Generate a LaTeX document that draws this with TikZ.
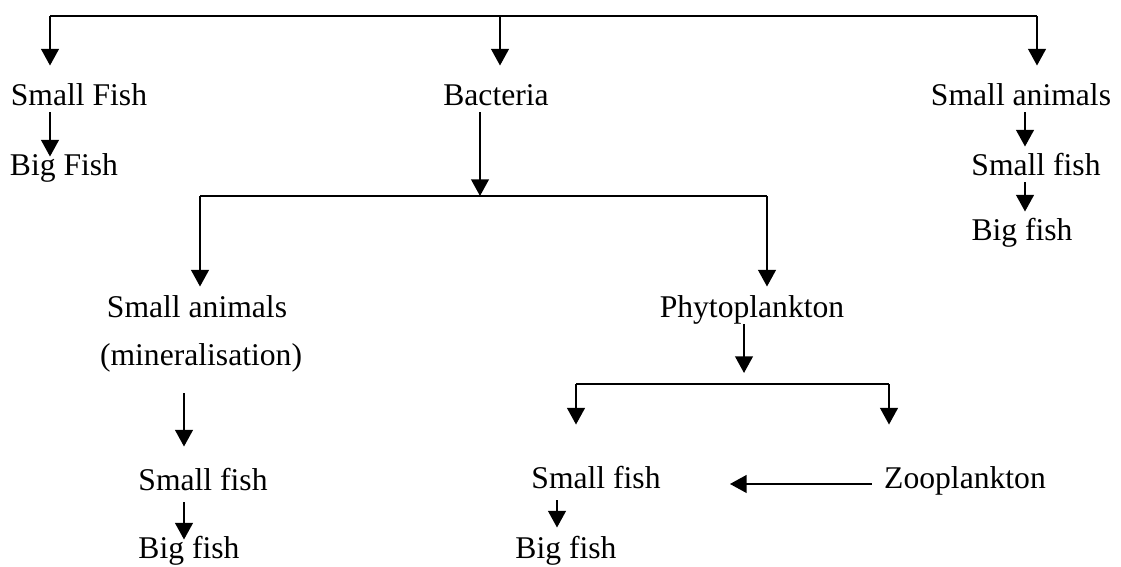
\documentclass[tikz,border=0pt]{standalone}
\usepackage{fontspec}
\setmainfont{Liberation Serif}
\usetikzlibrary{arrows.meta}
\tikzset{
  lbl/.style={anchor=base, inner sep=0pt, text height=12pt, text depth=4pt,
    font=\fontsize{18}{22}\selectfont},
  feed/.style={-{Triangle[length=9.5pt,width=10pt]}, line width=1.4pt},
  bar/.style={line width=1.2pt}
}

\begin{document}
\begin{tikzpicture}[x=0.02cm, y=-0.02cm]
    \useasboundingbox (0,0) rectangle (1121,566);

    \node[lbl] (sFish) at (79,105)   {Small Fish};
    \node[lbl] (bFish) at (64,175)   {Big Fish};
    \node[lbl] (bac)   at (496,105)  {Bacteria};
    \node[lbl] (sAnR)  at (1021,105) {Small animals};
    \node[lbl] (sfR)   at (1036,175) {Small fish};
    \node[lbl] (bfR)   at (1022,240) {Big fish};

    \node[lbl] (sAnL)    at (197,317) {Small animals};
    \node[lbl] (mineral) at (201,365) {(mineralisation)};
    \node[lbl] (sfL)     at (203,490) {Small fish};
    \node[lbl] (bfL)     at (189,558) {Big fish};

    \node[lbl] (phyto) at (752,317) {Phytoplankton};
    \node[lbl] (sfM)   at (596,488) {Small fish};
    \node[lbl] (zoo)   at (965,488) {Zooplankton};
    \node[lbl] (bfM)   at (566,558) {Big fish};

    \coordinate (t1) at (50,16);
    \coordinate (t2) at (500,16);
    \coordinate (t3) at (1037,16);
    \coordinate (m1) at (200,196);
    \coordinate (m2) at (480,196);
    \coordinate (m3) at (767,196);
    \coordinate (p1) at (576,384);
    \coordinate (p2) at (744,384);
    \coordinate (p3) at (889,384);
    \coordinate (fR) at ([xshift=0.08cm]sAnR.south);
    \coordinate (fL) at ([xshift=-0.1cm]bfL.north);
    \coordinate (fM) at ([xshift=-0.18cm]bfM.north);

    \draw[bar] (t1) -- (t3);
    \draw[bar] (m1) -- (m3);
    \draw[bar] (p1) -- (p3);

    \draw[feed, shorten >=0.36cm] (t1) -- (t1 |- sFish.north);
    \draw[feed, shorten >=0.36cm] (t2) -- (t2 |- bac.north);
    \draw[feed, shorten >=0.36cm] (t3) -- (t3 |- sAnR.north);
    \draw[feed, shorten >=-0.06cm] (sFish.south -| t1) -- (bFish.north -| t1);

    \draw[feed] (bac.south -| m2) -- (m2);
    \draw[feed, shorten >=0.18cm] (m1) -- (m1 |- sAnL.north);
    \draw[feed, shorten >=0.18cm] (m3) -- (m3 |- phyto.north);

    \draw[feed, shorten >=0.14cm] (fR) -- (fR |- sfR.north);
    \draw[feed, shorten >=0.14cm] (fR |- sfR.south) -- (fR |- bfR.north);

    \draw[feed, shorten <=0.42cm, shorten >=0.44cm] (mineral.south -| fL) -- (sfL.north -| fL);
    \draw[feed, shorten <=0.1cm, shorten >=-0.06cm] (sfL.south -| fL) -- (fL);

    \draw[feed, shorten >=0.22cm] (phyto.south -| p2) -- (p2);
    \draw[feed, shorten >=0.84cm] (p1) -- (p1 |- sfM.north);
    \draw[feed, shorten >=0.84cm] (p3) -- (p3 |- zoo.north);
    \draw[feed, shorten <=0.24cm, shorten >=1.38cm] (zoo.mid west) -- (sfM.mid east);
    \draw[feed, shorten <=0.1cm, shorten >=0.18cm] (sfM.south -| fM) -- (fM);
\end{tikzpicture}
\end{document}
